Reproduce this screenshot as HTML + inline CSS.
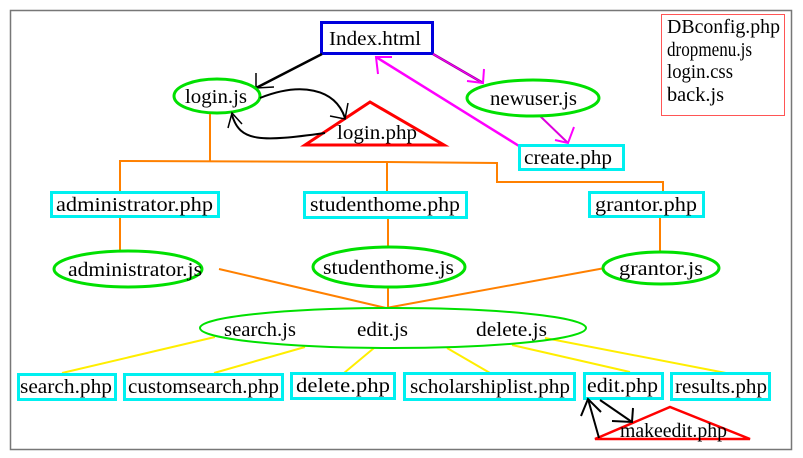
<!DOCTYPE html>
<html><head><meta charset="utf-8"><style>
html,body{margin:0;padding:0;background:#fff;width:803px;height:458px;overflow:hidden}
text{font-family:"Liberation Serif",serif;font-size:20px;fill:#000}
</style></head><body>
<svg width="803" height="458" viewBox="0 0 803 458" xmlns="http://www.w3.org/2000/svg">
<rect x="10.5" y="10.5" width="781" height="439" fill="none" stroke="#777" stroke-width="1.5"/>
<rect x="661.5" y="14.5" width="123" height="101" fill="none" stroke="#f55" stroke-width="1"/>
<text x="667" y="33" textLength="113" lengthAdjust="spacingAndGlyphs">DBconfig.php</text>
<text x="667" y="56" textLength="85" lengthAdjust="spacingAndGlyphs">dropmenu.js</text>
<text x="667" y="78" textLength="66" lengthAdjust="spacingAndGlyphs">login.css</text>
<text x="667" y="101" textLength="57" lengthAdjust="spacingAndGlyphs">back.js</text>
<rect x="321.5" y="22.5" width="111" height="31" fill="#fff" stroke="#0000dd" stroke-width="3"/>
<text x="329" y="45" textLength="92" lengthAdjust="spacingAndGlyphs">Index.html</text>
<line x1="322" y1="54" x2="256" y2="88" stroke="#000" stroke-width="2.5"/>
<polyline points="256,73 256,88 274,87" fill="none" stroke="#000" stroke-width="1.5"/>
<line x1="433" y1="54" x2="483" y2="83" stroke="#a0a" stroke-width="2.5"/>
<line x1="433" y1="54" x2="483" y2="83" stroke="#f0f" stroke-width="1"/>
<polyline points="467,81 483,83 484,69" fill="none" stroke="#f0f" stroke-width="2"/>
<line x1="519" y1="146" x2="376" y2="57" stroke="#f0f" stroke-width="2.5"/>
<polyline points="378,74 376,57 392,57" fill="none" stroke="#f0f" stroke-width="2"/>
<line x1="540" y1="116" x2="568" y2="143" stroke="#d0d" stroke-width="2"/>
<polyline points="555,140 568,143 574,127" fill="none" stroke="#f0f" stroke-width="2"/>
<ellipse cx="217" cy="96" rx="43" ry="17" fill="#fff" stroke="#00e000" stroke-width="3"/>
<text x="185" y="103" textLength="62" lengthAdjust="spacingAndGlyphs">login.js</text>
<polygon points="305,145 370,102 444,145" fill="#fff" stroke="#f00" stroke-width="3"/>
<text x="337" y="139" textLength="80" lengthAdjust="spacingAndGlyphs">login.php</text>
<path d="M260,98 C300,82 335,88 345,118" fill="none" stroke="#000" stroke-width="2"/>
<polyline points="330,116 345,119 348,103" fill="none" stroke="#000" stroke-width="1.5"/>
<path d="M325,133 C260,142 240,142 232,115" fill="none" stroke="#000" stroke-width="2"/>
<polyline points="228,128 232,113 242,124" fill="none" stroke="#000" stroke-width="1.5"/>
<ellipse cx="533" cy="98" rx="66" ry="18" fill="#fff" stroke="#00e000" stroke-width="3"/>
<text x="490" y="105" textLength="87" lengthAdjust="spacingAndGlyphs">newuser.js</text>
<rect x="519.5" y="145.5" width="104" height="24" fill="#fff" stroke="#00f0f0" stroke-width="3"/>
<text x="524" y="164" textLength="88" lengthAdjust="spacingAndGlyphs">create.php</text>
<g stroke="#ff8000" stroke-width="2" fill="none">
<line x1="210" y1="114" x2="210" y2="161"/>
<polyline points="120,192 120,161 387,162 497,163 497,182 663,182 663,192"/>
<line x1="387" y1="162" x2="387" y2="192"/>
<line x1="120" y1="217" x2="120" y2="252"/>
<line x1="388" y1="218" x2="388" y2="246"/>
<line x1="660" y1="217" x2="660" y2="253"/>
<line x1="219" y1="269" x2="386" y2="308"/>
<line x1="388" y1="287" x2="388" y2="308"/>
<line x1="605" y1="268" x2="386" y2="308"/>
</g>
<rect x="51.5" y="192.5" width="167" height="24" fill="#fff" stroke="#00f0f0" stroke-width="3"/>
<text x="56" y="211" textLength="157" lengthAdjust="spacingAndGlyphs">administrator.php</text>
<rect x="304.5" y="192.5" width="162" height="25" fill="#fff" stroke="#00f0f0" stroke-width="3"/>
<text x="310" y="211" textLength="150" lengthAdjust="spacingAndGlyphs">studenthome.php</text>
<rect x="589.5" y="192.5" width="114" height="24" fill="#fff" stroke="#00f0f0" stroke-width="3"/>
<text x="595" y="211" textLength="102" lengthAdjust="spacingAndGlyphs">grantor.php</text>
<ellipse cx="128" cy="269" rx="74" ry="18" fill="#fff" stroke="#00e000" stroke-width="3"/>
<text x="68" y="276" textLength="134" lengthAdjust="spacingAndGlyphs">administrator.js</text>
<ellipse cx="389" cy="267" rx="76" ry="20" fill="#fff" stroke="#00e000" stroke-width="3"/>
<text x="323" y="274" textLength="131" lengthAdjust="spacingAndGlyphs">studenthome.js</text>
<ellipse cx="661" cy="268" rx="58" ry="16" fill="#fff" stroke="#00e000" stroke-width="3"/>
<text x="619" y="275" textLength="84" lengthAdjust="spacingAndGlyphs">grantor.js</text>
<g stroke="#ffee00" stroke-width="2">
<line x1="215" y1="337" x2="62" y2="373"/>
<line x1="305" y1="347" x2="214" y2="373"/>
<line x1="374" y1="348" x2="344" y2="373"/>
<line x1="447" y1="348" x2="490" y2="373"/>
<line x1="512" y1="345" x2="630" y2="372"/>
<line x1="545" y1="338" x2="726" y2="373"/>
</g>
<ellipse cx="393" cy="328" rx="193" ry="20" fill="none" stroke="#00e000" stroke-width="2"/>
<text x="224" y="336" textLength="72" lengthAdjust="spacingAndGlyphs">search.js</text>
<text x="357" y="336" textLength="51" lengthAdjust="spacingAndGlyphs">edit.js</text>
<text x="476" y="336" textLength="71" lengthAdjust="spacingAndGlyphs">delete.js</text>
<g fill="#fff" stroke="#00f0f0" stroke-width="3">
<rect x="18.5" y="374.5" width="97" height="25"/>
<rect x="124.5" y="374.5" width="158" height="25"/>
<rect x="291.5" y="373.5" width="103" height="25"/>
<rect x="404.5" y="373.5" width="170" height="26"/>
<rect x="584.5" y="373.5" width="78" height="25"/>
<rect x="671.5" y="373.5" width="98" height="26"/>
</g>
<text x="20" y="393" textLength="92" lengthAdjust="spacingAndGlyphs">search.php</text>
<text x="128" y="393" textLength="151" lengthAdjust="spacingAndGlyphs">customsearch.php</text>
<text x="296" y="392" textLength="94" lengthAdjust="spacingAndGlyphs">delete.php</text>
<text x="410" y="393" textLength="160" lengthAdjust="spacingAndGlyphs">scholarshiplist.php</text>
<text x="587" y="392" textLength="71" lengthAdjust="spacingAndGlyphs">edit.php</text>
<text x="675" y="393" textLength="92" lengthAdjust="spacingAndGlyphs">results.php</text>
<polygon points="595,439 670,407 750,439" fill="none" stroke="#f00" stroke-width="2.5"/>
<text x="620" y="437" textLength="107" lengthAdjust="spacingAndGlyphs">makeedit.php</text>
<line x1="599" y1="438" x2="588" y2="399" stroke="#000" stroke-width="2"/>
<polyline points="581,416 588,399 601,412" fill="none" stroke="#000" stroke-width="2"/>
<line x1="600" y1="400" x2="632" y2="422" stroke="#000" stroke-width="2"/>
<polyline points="612,421 632,422 633,408" fill="none" stroke="#000" stroke-width="2"/>
</svg>
</body></html>
